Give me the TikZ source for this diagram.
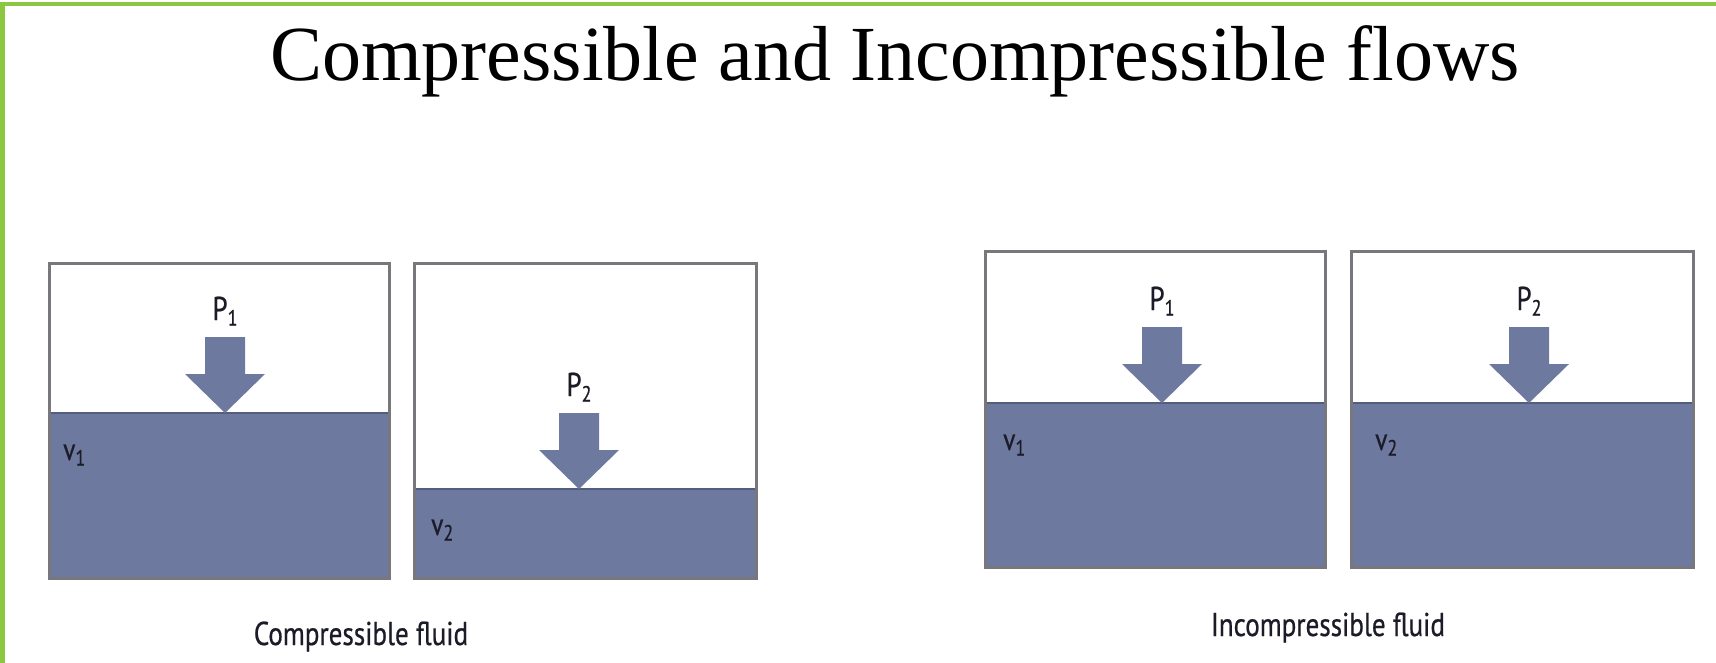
\documentclass[tikz,border=0pt]{standalone}
\usepackage{fontspec}
\setmainfont{Liberation Serif}
\newfontfamily\gillfont[FakeStretch=0.82,FakeBold=0.6]{PT Sans}
\definecolor{water}{HTML}{6E79A0}
\definecolor{wateredge}{HTML}{555D7E}
\definecolor{tankedge}{HTML}{77777C}
\definecolor{frame}{HTML}{8DC63F}
\definecolor{ink}{HTML}{1C1C28}
\newcommand\pushArrow[2]{%
  \fill[water] (#1-20,#2-76) -- (#1+20,#2-76) -- (#1+20,#2-39) -- (#1+40,#2-39)
    -- (#1,#2) -- (#1-40,#2-39) -- (#1-20,#2-39) -- cycle;}
\tikzset{
  tank/.style={draw=tankedge, line width=3pt},
  fluid/.style={fill=water},
  surface/.style={draw=wateredge, line width=2.2pt},
  plabel/.style={font=\gillfont\fontsize{33}{34}\selectfont, text=ink, inner sep=0pt, anchor=base},
  vlabel/.style={font=\gillfont\fontsize{31}{32}\selectfont, text=ink, inner sep=0pt, anchor=base west},
  caption/.style={font=\gillfont\fontsize{33}{34}\selectfont, text=ink, inner sep=0pt, anchor=base},
}
\newcommand\sub[1]{{\fontsize{22}{22}\selectfont\raisebox{-0.5ex}{#1}}}
\begin{document}
\begin{tikzpicture}[x=1pt,y=-1pt]
\useasboundingbox (0,0) rectangle (1716,663);
\fill[white] (0,0) rectangle (1716,663);
% frame
\draw[frame, line width=4.5pt] (2.5,663) -- (2.5,4) -- (1716,4);
% title
\node[anchor=base, inner sep=0pt, font=\fontsize{78}{80}\selectfont] (title) at (895,81) {Compressible and Incompressible flows};

% ---- compressible: tank 1
\fill[fluid] (49,413) rectangle (389,578);
\draw[surface] (49,413) -- (389,413);
\draw[tank] (49,263) rectangle (389,578);
\pushArrow{225}{413}
\node[plabel] (p1a) at (225,320) {P\sub{1}};
\node[vlabel] (v1a) at (63,460) {v\sub{1}};

% ---- compressible: tank 2
\fill[fluid] (414,489) rectangle (756,578);
\draw[surface] (414,489) -- (756,489);
\draw[tank] (414,263) rectangle (756,578);
\pushArrow{579}{489}
\node[plabel] (p2a) at (579,396) {P\sub{2}};
\node[vlabel] (v2a) at (431,535) {v\sub{2}};

% ---- incompressible: tank 1
\fill[fluid] (985,403) rectangle (1325,567);
\draw[surface] (985,403) -- (1325,403);
\draw[tank] (985,251) rectangle (1325,567);
\pushArrow{1162}{403}
\node[plabel] (p1b) at (1162,310) {P\sub{1}};
\node[vlabel] (v1b) at (1003,450) {v\sub{1}};

% ---- incompressible: tank 2
\fill[fluid] (1351,403) rectangle (1693,567);
\draw[surface] (1351,403) -- (1693,403);
\draw[tank] (1351,251) rectangle (1693,567);
\pushArrow{1529}{403}
\node[plabel] (p2b) at (1529,310) {P\sub{2}};
\node[vlabel] (v2b) at (1375,450) {v\sub{2}};

% captions
\node[caption] (capc) at (361,645) {Compressible fluid};
\node[caption] (capi) at (1328,636) {Incompressible fluid};
\end{tikzpicture}
\end{document}
